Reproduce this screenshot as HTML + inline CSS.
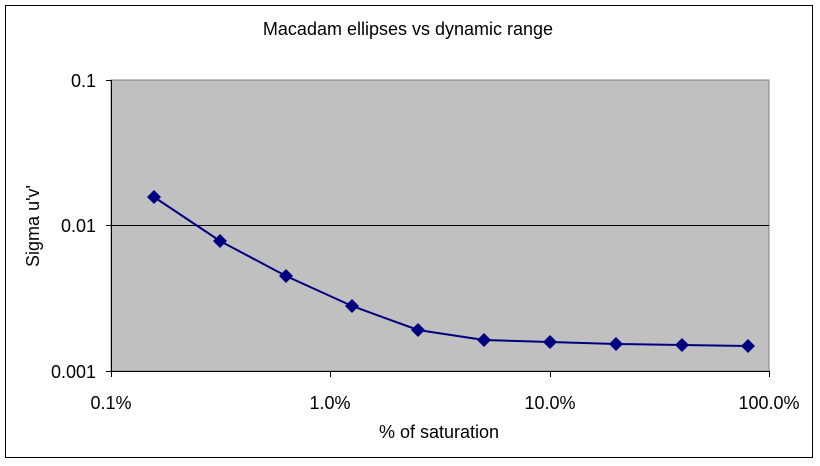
<!DOCTYPE html>
<html><head><meta charset="utf-8"><style>
html,body{margin:0;padding:0;background:#fff;}
svg{display:block;font-family:"Liberation Sans",Arial,sans-serif;}
</style></head><body>
<svg width="820" height="466" viewBox="0 0 820 466">
<rect x="5.5" y="5.5" width="807" height="452" fill="#fff" stroke="#000" stroke-width="1"/>
<rect x="111" y="80" width="658" height="291" fill="#c0c0c0" stroke="#808080" stroke-width="1"/>
<line x1="111" y1="225.5" x2="769" y2="225.5" stroke="#000" stroke-width="1"/>
<line x1="111.5" y1="80" x2="111.5" y2="372" stroke="#000"/>
<line x1="111" y1="371.5" x2="769" y2="371.5" stroke="#000"/>
<g stroke="#000">
<line x1="106" y1="80.5" x2="111" y2="80.5"/>
<line x1="106" y1="225.5" x2="111" y2="225.5"/>
<line x1="106" y1="371.5" x2="111" y2="371.5"/>
<line x1="111.5" y1="371" x2="111.5" y2="377"/>
<line x1="330.5" y1="371" x2="330.5" y2="377"/>
<line x1="550.5" y1="371" x2="550.5" y2="377"/>
<line x1="769.5" y1="371" x2="769.5" y2="377"/>
</g>
<g font-size="18" fill="#000" text-anchor="end">
<text x="96" y="87">0.1</text>
<text x="96" y="232">0.01</text>
<text x="96" y="378">0.001</text>
</g>
<g font-size="18" fill="#000" text-anchor="middle">
<text x="111" y="409">0.1%</text>
<text x="330" y="409">1.0%</text>
<text x="550" y="409">10.0%</text>
<text x="769" y="409">100.0%</text>
<text x="439" y="438">% of saturation</text>
<text x="408" y="35">Macadam ellipses vs dynamic range</text>
<text transform="translate(39 226) rotate(-90)">Sigma u'v'</text>
</g>
<polyline fill="none" stroke="#000080" stroke-width="2" points="154,197 220,241 286,276 352,306 418,330 484,340 550,342 616,344 682,345 748,346"/>
<g fill="#000080">
<path d="M154 190l7 7-7 7-7-7z"/>
<path d="M220 234l7 7-7 7-7-7z"/>
<path d="M286 269l7 7-7 7-7-7z"/>
<path d="M352 299l7 7-7 7-7-7z"/>
<path d="M418 323l7 7-7 7-7-7z"/>
<path d="M484 333l7 7-7 7-7-7z"/>
<path d="M550 335l7 7-7 7-7-7z"/>
<path d="M616 337l7 7-7 7-7-7z"/>
<path d="M682 338l7 7-7 7-7-7z"/>
<path d="M748 339l7 7-7 7-7-7z"/>
</g>
</svg>
</body></html>
